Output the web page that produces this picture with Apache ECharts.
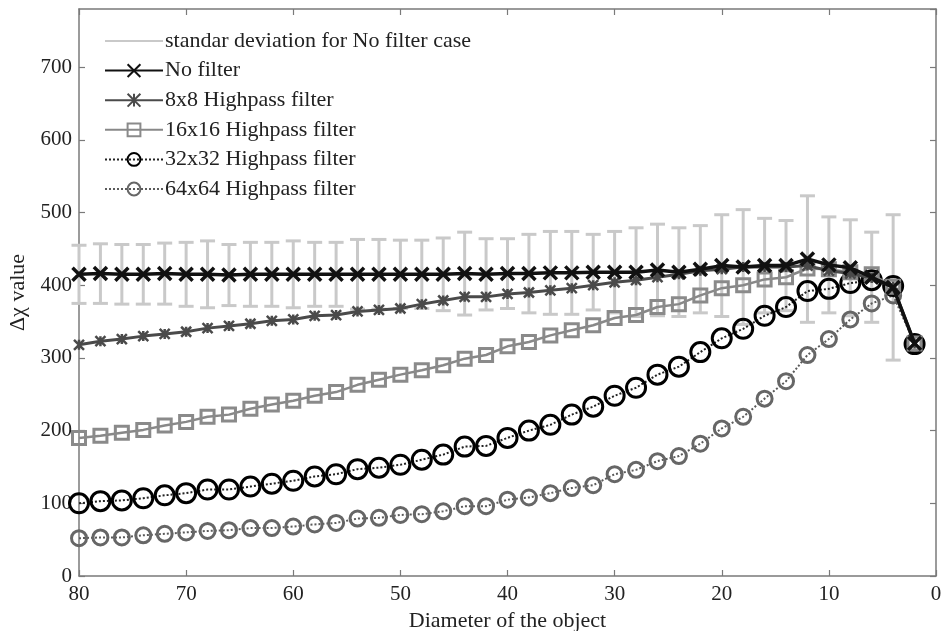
<!DOCTYPE html>
<html><head><meta charset="utf-8">
<script src="https://cdn.jsdelivr.net/npm/echarts@6/dist/echarts.min.js"></script>
<style>html,body{margin:0;padding:0;background:#fff}#c{width:943px;height:631px}</style>
</head><body><div id="c"></div>
<script>
const diameters = [80,78,76,74,72,70,68,66,64,62,60,58,56,54,52,50,48,46,44,42,40,38,36,34,32,30,28,26,24,22,20,18,16,14,12,10,8,6,4,2];
const noFilter = [415,416,415,415,416,415,415,414,415,415,415,415,415,415,415,415,415,415,416,415,416,416,417,417,418,418,418,421,418,422,427,425,427,427,436,428,424,411,397,320];
const stdNoFilter = [40,41,41,41,42,44,46,42,44,44,46,44,44,48,48,47,47,50,57,49,48,54,57,57,52,56,61,63,61,60,70,79,65,62,87,66,66,62,100,null];
const hp8 = [318,323,326,330,333,336,341,344,347,351,353,358,359,364,366,368,374,379,384,384,388,390,393,396,400,404,407,411,415,420,422,425,425,425,427,420,416,410,398,320];
const hp16 = [190,193,197,201,207,212,219,222,230,236,241,248,253,263,270,277,283,290,299,304,316,322,331,338,345,355,359,370,374,386,396,400,408,411,423,422,418,415,398,320];
const hp32 = [100,103,104,107,111,114,119,119,123,127,131,137,140,147,149,153,160,167,178,179,190,200,208,222,233,248,259,277,288,308,327,340,358,370,392,395,403,407,399,319];
const hp64 = [52,53,53,56,58,60,62,63,66,66,68,71,73,79,80,84,85,89,96,96,105,108,114,121,125,140,146,158,165,182,203,219,244,268,304,326,353,375,386,320];
const xTicks = [0,10,20,30,40,50,60,70,80];
const yTicks = [0,100,200,300,400,500,600,700];

const names = ['standar deviation for No filter case','No filter','8x8 Highpass filter','16x16 Highpass filter','32x32 Highpass filter','64x64 Highpass filter'];
const pair = arr => diameters.map((d, i) => [d, arr[i]]);
const errData = diameters.map((d, i) => [d, noFilter[i], stdNoFilter[i]]).filter(r => r[2] != null);

const serif = 'Liberation Serif';
const axisGray = '#7a7a7a';
const crossPath = 'path://M0,0L10,10M10,0L0,10';
const starPath = 'path://M0,0L10,10M10,0L0,10M5,0L5,10';

const chart = echarts.init(document.getElementById('c'));
const baseX = {
  type: 'value', min: 0, max: 80, interval: 10, inverse: true,
  axisLine: {show: true, onZero: false, lineStyle: {color: axisGray, width: 1.5}},
  axisTick: {show: true, inside: true, length: 6, lineStyle: {color: axisGray, width: 1.2}},
  splitLine: {show: false}
};
const baseY = {
  type: 'value', min: 0, max: 780, interval: 100,
  axisLine: {show: true, onZero: false, lineStyle: {color: axisGray, width: 1.5}},
  axisTick: {show: true, inside: true, length: 6, lineStyle: {color: axisGray, width: 1.2}},
  splitLine: {show: false}
};
chart.setOption({
  animation: false,
  backgroundColor: '#fff',
  grid: {left: 79, right: 7, top: 9, bottom: 55, outerBoundsMode: 'none', containLabel: false},
  legend: {
    orient: 'vertical', left: 99, top: 25, itemWidth: 58, itemHeight: 16, itemGap: 7.6,
    data: [
      {name: names[0], itemStyle: {color: 'rgba(0,0,0,0)', borderColor: 'rgba(0,0,0,0)'}},
      names[1], names[2], names[3], names[4], names[5]
    ],
    textStyle: {fontFamily: serif, fontSize: 22, color: '#222', padding: [0, 0, 0, -3]}
  },
  xAxis: [
    Object.assign({}, baseX, {position: 'bottom',
      axisLabel: {color: '#222', fontSize: 21, fontFamily: serif, margin: 8,
        formatter: v => xTicks.includes(v) ? String(v) : ''},
      name: 'Diameter of the object', nameLocation: 'middle', nameGap: 34,
      nameTextStyle: {fontFamily: serif, fontSize: 22, color: '#222'}}),
    Object.assign({}, baseX, {position: 'top', axisLabel: {show: false}})
  ],
  yAxis: [
    Object.assign({}, baseY, {position: 'left',
      axisLabel: {color: '#222', fontSize: 21, fontFamily: serif, margin: 7, showMaxLabel: false,
        formatter: v => yTicks.includes(v) ? String(v) : ''},
      name: 'Δχ value', nameLocation: 'middle', nameGap: 50, nameMoveOverlap: false,
      nameTextStyle: {fontFamily: serif, fontSize: 22, color: '#222'}}),
    Object.assign({}, baseY, {position: 'right', axisLabel: {show: false}})
  ],
  series: [
    {
      name: '_std', type: 'custom', z: 1, data: errData,
      renderItem: function (params, api) {
        const x = api.value(0), m = api.value(1), s = api.value(2);
        const t = api.coord([x, m + s]);
        const b = api.coord([x, m - s]);
        const hw = 7.5;
        const st = {stroke: '#c9c9c9', lineWidth: 3, fill: null};
        return {type: 'group', children: [
          {type: 'line', shape: {x1: t[0], y1: t[1], x2: b[0], y2: b[1]}, style: st},
          {type: 'line', shape: {x1: t[0] - hw, y1: t[1], x2: t[0] + hw, y2: t[1]}, style: st},
          {type: 'line', shape: {x1: b[0] - hw, y1: b[1], x2: b[0] + hw, y2: b[1]}, style: st}
        ]};
      }
    },
    {
      name: names[0], type: 'line', data: [], symbol: 'none',
      lineStyle: {color: '#c9c9c9', width: 3}, itemStyle: {color: '#c9c9c9'}
    },
    {
      name: names[5], type: 'line', z: 3, data: pair(hp64),
      symbol: 'circle', symbolSize: 15,
      lineStyle: {color: '#5a5a5a', width: 2, type: [2, 2]},
      itemStyle: {color: 'rgba(0,0,0,0)', borderColor: '#666', borderWidth: 3}
    },
    {
      name: names[4], type: 'line', z: 4, data: pair(hp32),
      symbol: 'circle', symbolSize: 19,
      lineStyle: {color: '#222', width: 2, type: [2, 2]},
      itemStyle: {color: 'rgba(0,0,0,0)', borderColor: '#000', borderWidth: 3}
    },
    {
      name: names[3], type: 'line', z: 5, data: pair(hp16),
      symbol: 'rect', symbolSize: 13,
      lineStyle: {color: '#888', width: 2.5},
      itemStyle: {color: 'rgba(0,0,0,0)', borderColor: '#8a8a8a', borderWidth: 3}
    },
    {
      name: names[2], type: 'line', z: 6, data: pair(hp8),
      symbol: starPath, symbolSize: 10,
      lineStyle: {color: '#4a4a4a', width: 3},
      itemStyle: {color: '#4a4a4a', borderColor: '#4a4a4a', borderWidth: 2.5}
    },
    {
      name: names[1], type: 'line', z: 7, data: pair(noFilter),
      symbol: crossPath, symbolSize: 13,
      lineStyle: {color: '#111', width: 3.5},
      itemStyle: {color: '#111', borderColor: '#111', borderWidth: 3.5}
    }
  ]
});
</script>
</body></html>
